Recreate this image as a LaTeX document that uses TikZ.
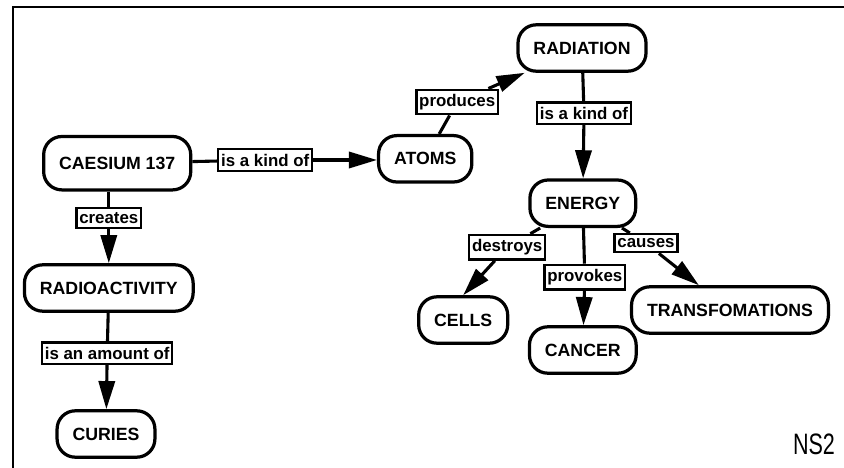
\documentclass[tikz,border=0pt]{standalone}
\usepackage{fontspec}
\setmainfont{Liberation Sans}
\usetikzlibrary{arrows.meta, positioning}

\begin{document}
\begin{tikzpicture}[
    >={Triangle[length=20pt, width=11.5pt]},
    font=\bfseries\fontsize{12.6}{14}\selectfont,
    conceptbox/.style={
        draw, fill=white, rounded corners=13pt, line width=2.3pt,
        minimum height=33pt, inner xsep=11pt, align=center,
    },
    linkbox/.style={
        draw, fill=white, line width=1.6pt, inner xsep=2pt, inner ysep=3.2pt,
        font=\bfseries\fontsize{12}{13}\selectfont,
    },
    link/.style={line width=2.2pt},
    arr/.style={->, line width=2.2pt},
    frame/.style={line width=1.5pt},
]
\useasboundingbox (0,0) rectangle (21.1,-11.7);

% Frame
\draw[frame] (21.1,-0.18) -- (0.33,-0.18) -- (0.33,-11.7);

% Concepts
\node[conceptbox, minimum height=38pt] (caesium) at (2.93,-4.08) {CAESIUM 137};
\node[conceptbox] (atoms) at (10.63,-3.97) {ATOMS};
\node[conceptbox] (radiation) at (14.55,-1.2) {RADIATION};
\node[conceptbox] (energy) at (14.57,-5.08) {ENERGY};
\node[conceptbox] (cells) at (11.58,-8.0) {CELLS};
\node[conceptbox] (cancer) at (14.57,-8.75) {CANCER};
\node[conceptbox] (transf) at (18.25,-7.75) {TRANSFOMATIONS};
\node[conceptbox] (radioact) at (2.72,-7.2) {RADIOACTIVITY};
\node[conceptbox] (curies) at (2.65,-10.85) {CURIES};

% Link labels
\node[linkbox] (kindof1) at (6.63,-4.0) {is a kind of};
\node[linkbox] (produces) at (11.43,-2.55) {produces};
\node[linkbox] (kindof2) at (14.6,-2.83) {is a kind of};
\node[linkbox] (destroys) at (12.68,-6.18) {destroys};
\node[linkbox] (provokes) at (14.62,-6.93) {provokes};
\node[linkbox] (causes) at (16.15,-6.08) {causes};
\node[linkbox] (creates) at (2.72,-5.45) {creates};
\node[linkbox] (amount) at (2.68,-8.83) {is an amount of};

% Connectors
\draw[link] (caesium) -- (kindof1);
\draw[arr] (kindof1) -- (kindof1 -| atoms.west);
\draw[link] (atoms) -- (produces);
\draw[arr] (produces) -- (radiation);
\draw[link] (radiation) -- (kindof2);
\draw[arr] (kindof2) -- (energy);
\draw[link] (energy) -- (destroys);
\draw[arr] (destroys) -- (cells.north);
\draw[link] (energy) -- (provokes);
\draw[arr] (provokes) -- (cancer);
\draw[link] (energy) -- (causes);
\draw[arr] (causes) -- (transf);
\draw[link] (creates |- caesium.south) -- (creates);
\draw[arr] (creates) -- (radioact);
\draw[link] (radioact) -- (amount);
\draw[arr] (amount) -- (curies);

% Tag
\node[font=\fontsize{21}{22}\selectfont] (tag) at (20.35,-11.1) {\scalebox{0.73}[1]{NS2}};

\end{tikzpicture}
\end{document}
